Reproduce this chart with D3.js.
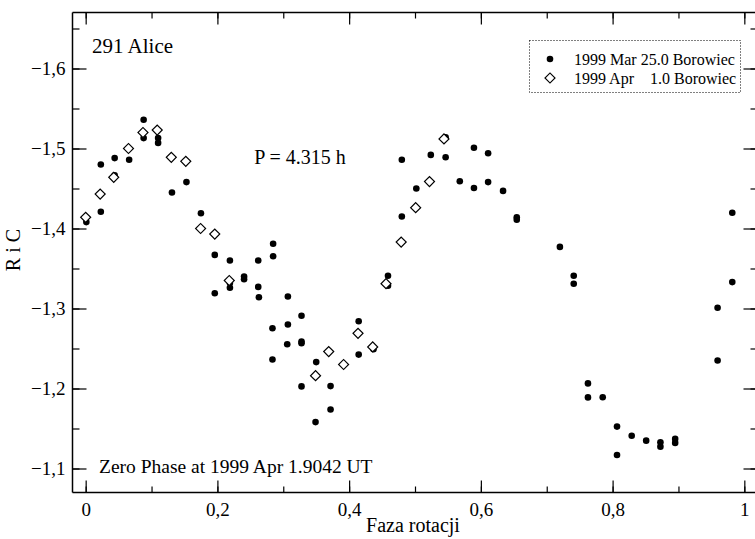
<!DOCTYPE html>
<html>
<head>
<meta charset="utf-8">
<script src="https://cdn.jsdelivr.net/npm/d3@7"></script>
<style>
  body { margin: 0; background: #fff; }
  svg { font-family: "Liberation Serif", "DejaVu Serif", serif; }
  .tick text { font-size: 19px; }
</style>
</head>
<body>
<svg id="chart" width="755" height="539"></svg>
<script>
// 1999 Mar 25.0 Borowiec (filled dots)
var marPhase = [0.001, 0.023, 0.023, 0.044, 0.044, 0.066, 0.088, 0.088, 0.110, 0.110, 0.131, 0.153, 0.175,
  0.196, 0.196, 0.219, 0.219, 0.219, 0.2405, 0.2405, 0.262, 0.262, 0.263, 0.2846, 0.2846, 0.2836, 0.2836,
  0.307, 0.307, 0.306, 0.3277, 0.3277, 0.3277, 0.3277, 0.350, 0.349, 0.3718, 0.3718, 0.4145, 0.4145, 0.437,
  0.459, 0.459, 0.480, 0.480, 0.502, 0.524, 0.5465, 0.5465, 0.568, 0.5895, 0.5895, 0.611, 0.611, 0.6337,
  0.6545, 0.6545, 0.720, 0.741, 0.741, 0.7626, 0.7626, 0.785, 0.8067, 0.8067, 0.829, 0.851, 0.8726, 0.8726,
  0.895, 0.895, 0.9594, 0.9594, 0.9817, 0.9817];
var marRiC = [-1.408, -1.480, -1.421, -1.488, -1.4665, -1.486, -1.536, -1.513, -1.513, -1.507, -1.445, -1.458, -1.419,
  -1.367, -1.319, -1.360, -1.332, -1.326, -1.340, -1.3365, -1.360, -1.327, -1.314, -1.381, -1.3654, -1.2754, -1.2362,
  -1.315, -1.280, -1.2553, -1.291, -1.2566, -1.2586, -1.2026, -1.233, -1.158, -1.203, -1.1738, -1.284, -1.2424, -1.249,
  -1.341, -1.3285, -1.415, -1.486, -1.450, -1.492, -1.514, -1.489, -1.459, -1.5009, -1.4507, -1.494, -1.458, -1.447,
  -1.414, -1.411, -1.377, -1.341, -1.331, -1.2064, -1.1889, -1.189, -1.1524, -1.1169, -1.141, -1.1348, -1.1327, -1.1273,
  -1.137, -1.132, -1.301, -1.235, -1.4197, -1.333];

// 1999 Apr 1.0 Borowiec (open diamonds)
var aprPhase = [0.000, 0.022, 0.0426, 0.065, 0.087, 0.1086, 0.130, 0.152, 0.1745, 0.196, 0.218,
  0.349, 0.369, 0.3916, 0.4135, 0.4358, 0.456, 0.479, 0.501, 0.522, 0.544];
var aprRiC = [-1.414, -1.443, -1.464, -1.500, -1.520, -1.523, -1.489, -1.484, -1.400, -1.393, -1.335,
  -1.216, -1.2462, -1.230, -1.269, -1.252, -1.331, -1.383, -1.426, -1.4586, -1.512];

var xTicks = [0, 0.2, 0.4, 0.6, 0.8, 1];
var yTicks = [-1.6, -1.5, -1.4, -1.3, -1.2, -1.1];
var legendLabels = ["1999 Mar 25.0 Borowiec", "1999 Apr    1.0 Borowiec"];

var svg = d3.select("#chart");
var mLeft = 72.5, mTop = 12.5, mRight = 757.5, mBottom = 492.5;

var x = d3.scaleLinear().domain([-0.02, 1.02]).range([mLeft, mRight]);
var y = d3.scaleLinear().domain([-1.67, -1.07]).range([mTop, mBottom]);

var fmt = function(d) {
  if (d === 0) return "0";
  if (d === 1) return "1";
  return d3.format(".1f")(d).replace(".", ",").replace("-", "\u2212");
};
var minorX = d3.range(0, 1.01, 0.1);
var minorY = d3.range(-1.65, -1.07, 0.05);

function axisStyle(g) {
  g.select(".domain").remove();
  g.selectAll(".tick line").attr("stroke", "#000").attr("stroke-width", 1.2);
  g.selectAll(".tick text").attr("font-family", "Liberation Serif").attr("fill", "#000");
}

// minor ticks (inward)
svg.append("g").attr("transform", "translate(0," + mBottom + ")")
  .call(d3.axisBottom(x).tickValues(minorX).tickSizeInner(-6).tickSizeOuter(0).tickFormat(""))
  .call(axisStyle);
svg.append("g").attr("transform", "translate(0," + mTop + ")")
  .call(d3.axisTop(x).tickValues(minorX).tickSizeInner(-6).tickSizeOuter(0).tickFormat(""))
  .call(axisStyle);
svg.append("g").attr("transform", "translate(" + mLeft + ",0)")
  .call(d3.axisLeft(y).tickValues(minorY).tickSizeInner(-7).tickSizeOuter(0).tickFormat(""))
  .call(axisStyle);
svg.append("g").attr("transform", "translate(" + mRight + ",0)")
  .call(d3.axisRight(y).tickValues(minorY).tickSizeInner(-7).tickSizeOuter(0).tickFormat(""))
  .call(axisStyle);

// major ticks
svg.append("g").attr("transform", "translate(0," + mBottom + ")")
  .call(d3.axisBottom(x).tickValues(xTicks).tickSizeInner(-12).tickSizeOuter(0).tickPadding(10).tickFormat(fmt))
  .call(axisStyle);
svg.append("g").attr("transform", "translate(0," + mTop + ")")
  .call(d3.axisTop(x).tickValues(xTicks).tickSizeInner(-12).tickSizeOuter(0).tickFormat(""))
  .call(axisStyle);
svg.append("g").attr("transform", "translate(" + mLeft + ",0)")
  .call(d3.axisLeft(y).tickValues(yTicks).tickSizeInner(-14).tickSizeOuter(0).tickPadding(7).tickFormat(fmt))
  .call(axisStyle);
svg.append("g").attr("transform", "translate(" + mRight + ",0)")
  .call(d3.axisRight(y).tickValues(yTicks).tickSizeInner(-14).tickSizeOuter(0).tickFormat(""))
  .call(axisStyle);

// frame
var frame = svg.append("g").attr("stroke", "#000").attr("stroke-width", 1.5);
frame.append("line").attr("x1", mLeft).attr("x2", mRight).attr("y1", mTop).attr("y2", mTop);
frame.append("line").attr("x1", mLeft).attr("x2", mRight).attr("y1", mBottom).attr("y2", mBottom);
frame.append("line").attr("x1", mLeft).attr("x2", mLeft).attr("y1", mTop).attr("y2", mBottom);
frame.append("line").attr("x1", mRight).attr("x2", mRight).attr("y1", mTop).attr("y2", mBottom);

// points
var marData = marPhase.map(function(p, i) { return {p: p, v: marRiC[i]}; });
var aprData = aprPhase.map(function(p, i) { return {p: p, v: aprRiC[i]}; });

svg.append("g").selectAll("circle").data(marData).enter().append("circle")
  .attr("cx", function(d) { return x(d.p); })
  .attr("cy", function(d) { return y(d.v); })
  .attr("r", 3.3)
  .attr("fill", "#000");

var diamond = d3.symbol().type(d3.symbolSquare).size(50);
svg.append("g").selectAll("path").data(aprData).enter().append("path")
  .attr("d", diamond)
  .attr("transform", function(d) { return "translate(" + x(d.p) + "," + y(d.v) + ") rotate(45)"; })
  .attr("fill", "#fff")
  .attr("stroke", "#000")
  .attr("stroke-width", 1.2);

// texts
svg.append("text").attr("x", 92).attr("y", 53).attr("font-size", 21).text("291 Alice");
svg.append("text").attr("x", 300).attr("y", 164).attr("font-size", 20).attr("text-anchor", "middle").text("P = 4.315 h");
svg.append("text").attr("x", 99).attr("y", 473).attr("font-size", 19.5).text("Zero Phase at 1999 Apr 1.9042 UT");
svg.append("text").attr("x", 413).attr("y", 532).attr("font-size", 20).attr("text-anchor", "middle").text("Faza rotacji");
svg.append("text").attr("transform", "translate(20,250) rotate(-90)").attr("font-size", 20)
  .attr("text-anchor", "middle").text("R i C");

// legend
var lg = svg.append("g");
lg.append("rect").attr("x", 529.5).attr("y", 40.5).attr("width", 211).attr("height", 52)
  .attr("fill", "#fff").attr("stroke", "#000").attr("stroke-width", 1).attr("stroke-dasharray", "1,2");
lg.append("circle").attr("cx", 550).attr("cy", 59).attr("r", 3.3).attr("fill", "#000");
lg.append("path").attr("d", diamond).attr("transform", "translate(550,78) rotate(45)")
  .attr("fill", "#fff").attr("stroke", "#000").attr("stroke-width", 1.2);
lg.selectAll("text.lab").data(legendLabels).enter().append("text")
  .attr("class", "lab")
  .attr("x", 574).attr("y", function(d, i) { return 64.5 + i * 19; })
  .attr("font-size", 16)
  .style("white-space", "pre")
  .text(function(d) { return d; });
</script>
</body>
</html>
